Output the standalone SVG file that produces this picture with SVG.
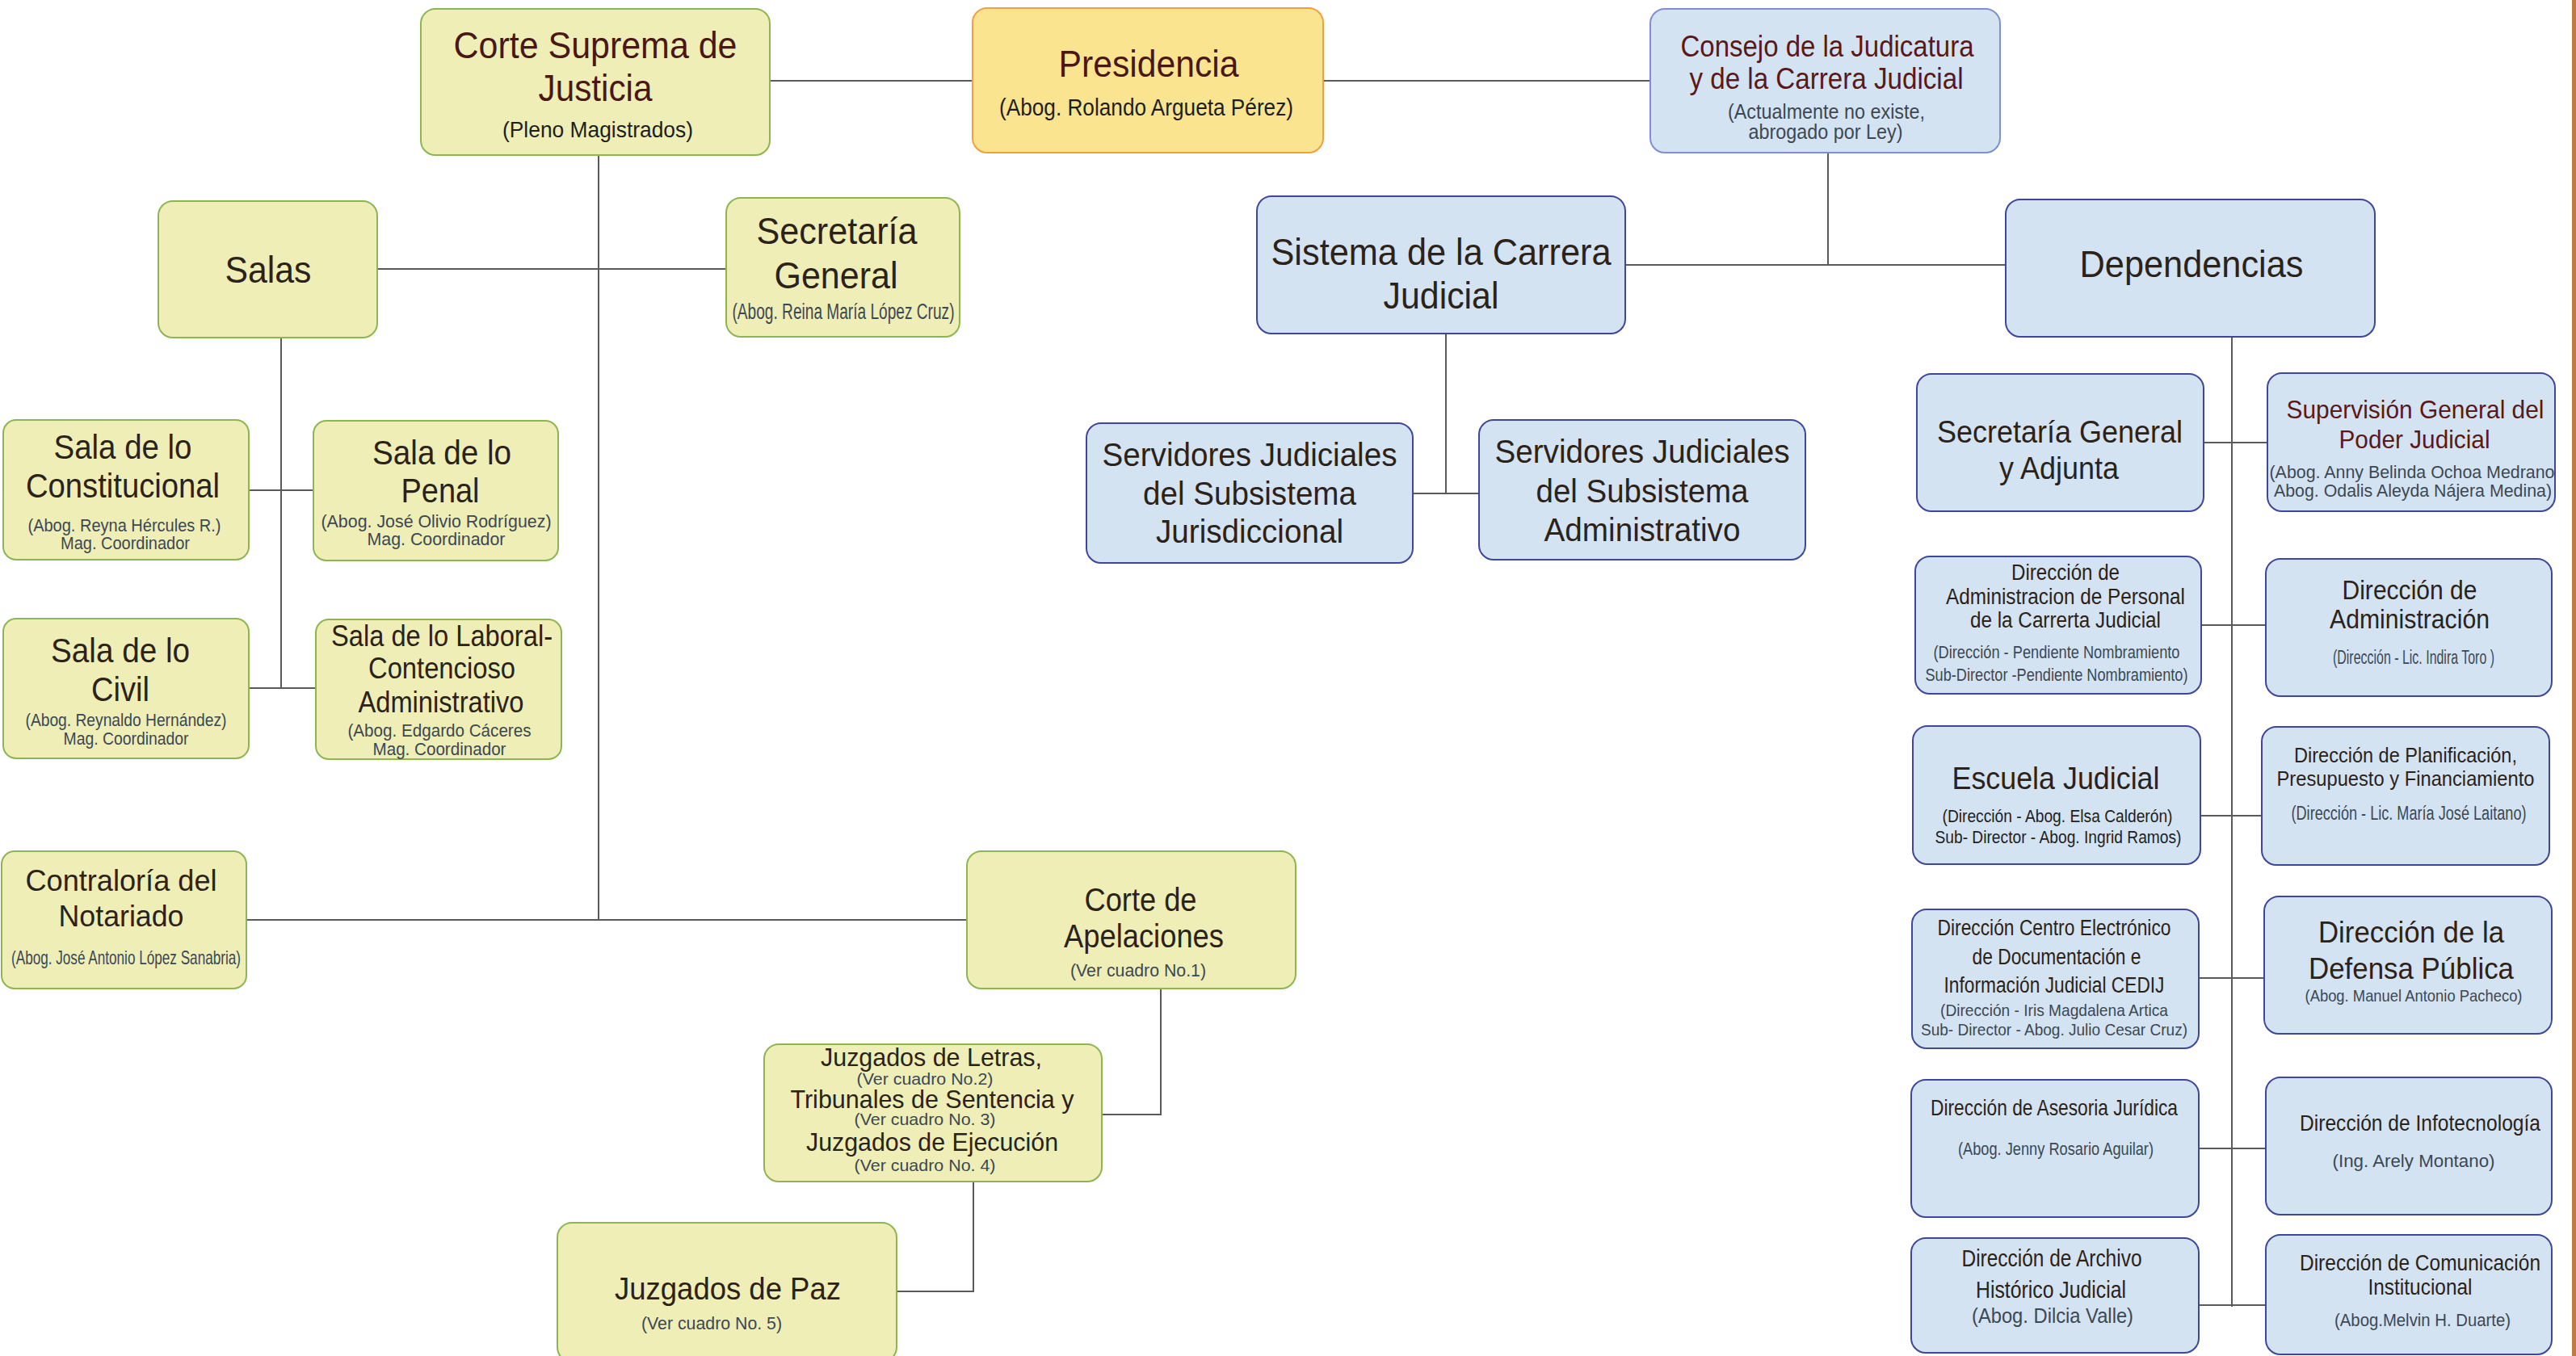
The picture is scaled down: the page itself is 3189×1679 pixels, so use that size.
<svg xmlns="http://www.w3.org/2000/svg" width="3189" height="1679" viewBox="0 0 3189 1679">
<style>
text{font-family:"Liberation Sans","Arial",sans-serif;text-anchor:middle}
.g{fill:#eeeeb6;stroke:#8db653;stroke-width:2}
.b{fill:#d4e3f2;stroke:#3e479a;stroke-width:2}
.y{fill:#fae490;stroke:#f0a040;stroke-width:2}
.t{fill:#2b2219}
.r{fill:#4a1717}
.s{fill:#3c4853}
.k{fill:#1e1e1e}
.c{fill:none;stroke:#5a5a5a;stroke-width:2}
</style>
<rect x="0" y="0" width="3189" height="1679" fill="#ffffff"/>
<rect x="3184" y="0" width="5" height="1679" fill="#c27a3e"/>
<g id="connectors">
<path class="c" d="M953,100H1204M1638,100H2043M741,192V1139M305,1139H1197M467,333H899M348,418V852M308,607H388M308,852H391M1437,1224V1380H1364M1205,1463V1599H1110M2263,189V328M2012,328H2483M1790,413V611M1749,611H1831M2763,417V1618M2728,548H2807M2725,774H2805M2724,1010H2800M2722,1211H2803M2722,1422H2805M2722,1616H2805"/>
</g>
<g id="corte-suprema">
<rect class="g" x="521" y="11" width="432" height="181" rx="18"/>
<text class="r" x="737" y="72" font-size="46" textLength="351" lengthAdjust="spacingAndGlyphs">Corte Suprema de</text>
<text class="r" x="737" y="125" font-size="46" textLength="141" lengthAdjust="spacingAndGlyphs">Justicia</text>
<text class="k" x="740" y="170" font-size="28" textLength="236" lengthAdjust="spacingAndGlyphs">(Pleno Magistrados)</text>
</g>
<g id="presidencia">
<rect class="y" x="1204" y="10" width="434" height="179" rx="18"/>
<text class="r" x="1422" y="95" font-size="46" textLength="223" lengthAdjust="spacingAndGlyphs">Presidencia</text>
<text class="k" x="1419" y="143" font-size="29" textLength="364" lengthAdjust="spacingAndGlyphs">(Abog. Rolando Argueta Pérez)</text>
</g>
<g id="consejo">
<rect class="b" x="2043" y="11" width="433" height="178" rx="18" style="stroke:#7f8fd0"/>
<text class="r" x="2262" y="70" font-size="37" textLength="363" lengthAdjust="spacingAndGlyphs" style="fill:#5a1818">Consejo de la Judicatura</text>
<text class="r" x="2261" y="110" font-size="37" textLength="339" lengthAdjust="spacingAndGlyphs" style="fill:#5a1818">y de la Carrera Judicial</text>
<text class="s" x="2261" y="147" font-size="25" textLength="244" lengthAdjust="spacingAndGlyphs">(Actualmente no existe,</text>
<text class="s" x="2260" y="172" font-size="25" textLength="191" lengthAdjust="spacingAndGlyphs">abrogado por Ley)</text>
</g>
<g id="sistema">
<rect class="b" x="1556" y="243" width="456" height="170" rx="18"/>
<text class="t" x="1784" y="328" font-size="46" textLength="421" lengthAdjust="spacingAndGlyphs">Sistema de la Carrera</text>
<text class="t" x="1784" y="382" font-size="46" textLength="143" lengthAdjust="spacingAndGlyphs">Judicial</text>
</g>
<g id="dependencias">
<rect class="b" x="2483" y="247" width="457" height="170" rx="18"/>
<text class="t" x="2713" y="343" font-size="46" textLength="277" lengthAdjust="spacingAndGlyphs">Dependencias</text>
</g>
<g id="salas">
<rect class="g" x="196" y="249" width="271" height="169" rx="18"/>
<text class="t" x="332" y="350" font-size="46" textLength="107" lengthAdjust="spacingAndGlyphs">Salas</text>
</g>
<g id="secretaria-general">
<rect class="g" x="899" y="245" width="289" height="172" rx="18"/>
<text class="t" x="1036" y="302" font-size="46" textLength="199" lengthAdjust="spacingAndGlyphs">Secretaría</text>
<text class="t" x="1035" y="357" font-size="46" textLength="153" lengthAdjust="spacingAndGlyphs">General</text>
<text class="s" x="1044" y="395" font-size="27" textLength="275" lengthAdjust="spacingAndGlyphs">(Abog. Reina María López Cruz)</text>
</g>
<g id="sala-constitucional">
<rect class="g" x="4" y="520" width="304" height="173" rx="16"/>
<text class="t" x="152" y="568" font-size="42" textLength="171" lengthAdjust="spacingAndGlyphs">Sala de lo</text>
<text class="t" x="152" y="616" font-size="42" textLength="240" lengthAdjust="spacingAndGlyphs">Constitucional</text>
<text class="s" x="154" y="658" font-size="22" textLength="239" lengthAdjust="spacingAndGlyphs">(Abog. Reyna Hércules R.)</text>
<text class="s" x="155" y="680" font-size="22" textLength="160" lengthAdjust="spacingAndGlyphs">Mag. Coordinador</text>
</g>
<g id="sala-penal">
<rect class="g" x="388" y="521" width="303" height="173" rx="16"/>
<text class="t" x="547" y="575" font-size="42" textLength="172" lengthAdjust="spacingAndGlyphs">Sala de lo</text>
<text class="t" x="545" y="622" font-size="42" textLength="97" lengthAdjust="spacingAndGlyphs">Penal</text>
<text class="s" x="540" y="653" font-size="22" textLength="285" lengthAdjust="spacingAndGlyphs">(Abog. José Olivio Rodríguez)</text>
<text class="s" x="540" y="675" font-size="22" textLength="171" lengthAdjust="spacingAndGlyphs">Mag. Coordinador</text>
</g>
<g id="sala-civil">
<rect class="g" x="4" y="766" width="304" height="173" rx="16"/>
<text class="t" x="149" y="820" font-size="42" textLength="172" lengthAdjust="spacingAndGlyphs">Sala de lo</text>
<text class="t" x="149" y="868" font-size="42" textLength="72" lengthAdjust="spacingAndGlyphs">Civil</text>
<text class="s" x="156" y="899" font-size="22" textLength="249" lengthAdjust="spacingAndGlyphs">(Abog. Reynaldo Hernández)</text>
<text class="s" x="156" y="922" font-size="22" textLength="155" lengthAdjust="spacingAndGlyphs">Mag. Coordinador</text>
</g>
<g id="sala-laboral">
<rect class="g" x="391" y="767" width="304" height="173" rx="16"/>
<text class="t" x="547" y="800" font-size="36" textLength="274" lengthAdjust="spacingAndGlyphs">Sala de lo Laboral-</text>
<text class="t" x="547" y="840" font-size="36" textLength="182" lengthAdjust="spacingAndGlyphs">Contencioso</text>
<text class="t" x="546" y="882" font-size="36" textLength="205" lengthAdjust="spacingAndGlyphs">Administrativo</text>
<text class="s" x="544" y="912" font-size="22" textLength="227" lengthAdjust="spacingAndGlyphs">(Abog. Edgardo Cáceres</text>
<text class="s" x="544" y="935" font-size="22" textLength="165" lengthAdjust="spacingAndGlyphs">Mag. Coordinador</text>
</g>
<g id="contraloria">
<rect class="g" x="2" y="1054" width="303" height="170" rx="16"/>
<text class="t" x="150" y="1103" font-size="37" textLength="237" lengthAdjust="spacingAndGlyphs">Contraloría del</text>
<text class="t" x="150" y="1147" font-size="37" textLength="155" lengthAdjust="spacingAndGlyphs">Notariado</text>
<text class="s" x="156" y="1194" font-size="24" textLength="284" lengthAdjust="spacingAndGlyphs">(Abog. José Antonio López Sanabria)</text>
</g>
<g id="corte-apelaciones">
<rect class="g" x="1197" y="1054" width="407" height="170" rx="18"/>
<text class="t" x="1412" y="1128" font-size="40" textLength="139" lengthAdjust="spacingAndGlyphs">Corte de</text>
<text class="t" x="1416" y="1173" font-size="40" textLength="198" lengthAdjust="spacingAndGlyphs">Apelaciones</text>
<text class="s" x="1409" y="1209" font-size="22" textLength="168" lengthAdjust="spacingAndGlyphs">(Ver cuadro No.1)</text>
</g>
<g id="juzgados-letras">
<rect class="g" x="946" y="1293" width="418" height="170" rx="18"/>
<text class="t" x="1153" y="1320" font-size="32" textLength="274" lengthAdjust="spacingAndGlyphs">Juzgados de Letras,</text>
<text class="s" x="1145" y="1343" font-size="21" textLength="169" lengthAdjust="spacingAndGlyphs">(Ver cuadro No.2)</text>
<text class="t" x="1154" y="1372" font-size="32" textLength="351" lengthAdjust="spacingAndGlyphs">Tribunales de Sentencia y</text>
<text class="s" x="1145" y="1393" font-size="21" textLength="175" lengthAdjust="spacingAndGlyphs">(Ver cuadro No. 3)</text>
<text class="t" x="1154" y="1425" font-size="32" textLength="312" lengthAdjust="spacingAndGlyphs">Juzgados de Ejecución</text>
<text class="s" x="1145" y="1450" font-size="21" textLength="175" lengthAdjust="spacingAndGlyphs">(Ver cuadro No. 4)</text>
</g>
<g id="juzgados-paz">
<rect class="g" x="690" y="1514" width="420" height="172" rx="18"/>
<text class="t" x="901" y="1609" font-size="38" textLength="280" lengthAdjust="spacingAndGlyphs">Juzgados de Paz</text>
<text class="s" x="881" y="1646" font-size="22" textLength="174" lengthAdjust="spacingAndGlyphs">(Ver cuadro No. 5)</text>
</g>
<g id="servidores-jurisdiccional">
<rect class="b" x="1345" y="524" width="404" height="173" rx="18"/>
<text class="t" x="1547" y="577" font-size="40" textLength="365" lengthAdjust="spacingAndGlyphs">Servidores Judiciales</text>
<text class="t" x="1547" y="625" font-size="40" textLength="264" lengthAdjust="spacingAndGlyphs">del Subsistema</text>
<text class="t" x="1547" y="672" font-size="40" textLength="232" lengthAdjust="spacingAndGlyphs">Jurisdiccional</text>
</g>
<g id="servidores-administrativo">
<rect class="b" x="1831" y="520" width="404" height="173" rx="18"/>
<text class="t" x="2033" y="573" font-size="40" textLength="365" lengthAdjust="spacingAndGlyphs">Servidores Judiciales</text>
<text class="t" x="2033" y="622" font-size="40" textLength="263" lengthAdjust="spacingAndGlyphs">del Subsistema</text>
<text class="t" x="2033" y="670" font-size="40" textLength="243" lengthAdjust="spacingAndGlyphs">Administrativo</text>
</g>
<g id="sec-general-adjunta">
<rect class="b" x="2373" y="463" width="355" height="170" rx="18"/>
<text class="t" x="2550" y="548" font-size="38" textLength="304" lengthAdjust="spacingAndGlyphs">Secretaría General</text>
<text class="t" x="2549" y="593" font-size="38" textLength="148" lengthAdjust="spacingAndGlyphs">y Adjunta</text>
</g>
<g id="supervision-general">
<rect class="b" x="2807" y="462" width="356" height="171" rx="18"/>
<text class="r" x="2990" y="518" font-size="32" textLength="319" lengthAdjust="spacingAndGlyphs" style="fill:#5a1818">Supervisión General del</text>
<text class="r" x="2989" y="555" font-size="32" textLength="187" lengthAdjust="spacingAndGlyphs" style="fill:#5a1818">Poder Judicial</text>
<text class="s" x="2986" y="592" font-size="22" textLength="353" lengthAdjust="spacingAndGlyphs">(Abog. Anny Belinda Ochoa Medrano</text>
<text class="s" x="2987" y="615" font-size="22" textLength="344" lengthAdjust="spacingAndGlyphs">Abog. Odalis Aleyda Nájera Medina)</text>
</g>
<g id="dir-admin-personal">
<rect class="b" x="2371" y="689" width="354" height="170" rx="18"/>
<text class="t" x="2557" y="718" font-size="27" textLength="134" lengthAdjust="spacingAndGlyphs">Dirección de</text>
<text class="t" x="2557" y="748" font-size="27" textLength="296" lengthAdjust="spacingAndGlyphs">Administracion de Personal</text>
<text class="t" x="2557" y="777" font-size="27" textLength="236" lengthAdjust="spacingAndGlyphs">de la Carrerta Judicial</text>
<text class="s" x="2546" y="815" font-size="22" textLength="305" lengthAdjust="spacingAndGlyphs">(Dirección - Pendiente Nombramiento</text>
<text class="s" x="2546" y="843" font-size="22" textLength="325" lengthAdjust="spacingAndGlyphs">Sub-Director -Pendiente Nombramiento)</text>
</g>
<g id="dir-administracion">
<rect class="b" x="2805" y="692" width="354" height="170" rx="18"/>
<text class="t" x="2983" y="742" font-size="33" textLength="167" lengthAdjust="spacingAndGlyphs">Dirección de</text>
<text class="t" x="2983" y="778" font-size="33" textLength="198" lengthAdjust="spacingAndGlyphs">Administración</text>
<text class="s" x="2988" y="822" font-size="23" textLength="200" lengthAdjust="spacingAndGlyphs">(Dirección - Lic. Indira Toro )</text>
</g>
<g id="escuela-judicial">
<rect class="b" x="2368" y="899" width="356" height="171" rx="18"/>
<text class="t" x="2545" y="977" font-size="39" textLength="257" lengthAdjust="spacingAndGlyphs">Escuela Judicial</text>
<text class="k" x="2547" y="1018" font-size="22" textLength="285" lengthAdjust="spacingAndGlyphs">(Dirección - Abog. Elsa Calderón)</text>
<text class="k" x="2548" y="1044" font-size="22" textLength="305" lengthAdjust="spacingAndGlyphs">Sub- Director - Abog. Ingrid Ramos)</text>
</g>
<g id="dir-planificacion">
<rect class="b" x="2800" y="900" width="356" height="171" rx="18"/>
<text class="t" x="2978" y="944" font-size="26" textLength="276" lengthAdjust="spacingAndGlyphs">Dirección de Planificación,</text>
<text class="t" x="2978" y="973" font-size="26" textLength="319" lengthAdjust="spacingAndGlyphs">Presupuesto y Financiamiento</text>
<text class="s" x="2982" y="1015" font-size="23" textLength="291" lengthAdjust="spacingAndGlyphs">(Dirección - Lic. María José Laitano)</text>
</g>
<g id="dir-cedij">
<rect class="b" x="2367" y="1126" width="355" height="172" rx="18"/>
<text class="t" x="2543" y="1158" font-size="27" textLength="289" lengthAdjust="spacingAndGlyphs">Dirección Centro Electrónico</text>
<text class="t" x="2546" y="1194" font-size="27" textLength="209" lengthAdjust="spacingAndGlyphs">de Documentación e</text>
<text class="t" x="2543" y="1229" font-size="27" textLength="273" lengthAdjust="spacingAndGlyphs">Información Judicial CEDIJ</text>
<text class="s" x="2543" y="1258" font-size="21" textLength="282" lengthAdjust="spacingAndGlyphs">(Dirección - Iris Magdalena Artica</text>
<text class="s" x="2543" y="1282" font-size="21" textLength="330" lengthAdjust="spacingAndGlyphs">Sub- Director - Abog. Julio Cesar Cruz)</text>
</g>
<g id="dir-defensa-publica">
<rect class="b" x="2803" y="1110" width="356" height="170" rx="18"/>
<text class="t" x="2985" y="1167" font-size="36" textLength="230" lengthAdjust="spacingAndGlyphs">Dirección de la</text>
<text class="t" x="2985" y="1212" font-size="36" textLength="254" lengthAdjust="spacingAndGlyphs">Defensa Pública</text>
<text class="s" x="2988" y="1240" font-size="21" textLength="269" lengthAdjust="spacingAndGlyphs">(Abog. Manuel Antonio Pacheco)</text>
</g>
<g id="dir-asesoria">
<rect class="b" x="2366" y="1337" width="356" height="170" rx="18"/>
<text class="t" x="2543" y="1381" font-size="28" textLength="306" lengthAdjust="spacingAndGlyphs">Dirección de Asesoria Jurídica</text>
<text class="s" x="2545" y="1430" font-size="22" textLength="242" lengthAdjust="spacingAndGlyphs">(Abog. Jenny Rosario Aguilar)</text>
</g>
<g id="dir-infotecnologia">
<rect class="b" x="2805" y="1334" width="354" height="170" rx="18"/>
<text class="t" x="2996" y="1400" font-size="28" textLength="298" lengthAdjust="spacingAndGlyphs">Dirección de Infotecnología</text>
<text class="s" x="2988" y="1445" font-size="22" textLength="201" lengthAdjust="spacingAndGlyphs">(Ing. Arely Montano)</text>
</g>
<g id="dir-archivo">
<rect class="b" x="2366" y="1533" width="356" height="142" rx="18"/>
<text class="t" x="2540" y="1568" font-size="30" textLength="223" lengthAdjust="spacingAndGlyphs">Dirección de Archivo</text>
<text class="t" x="2539" y="1607" font-size="30" textLength="186" lengthAdjust="spacingAndGlyphs">Histórico Judicial</text>
<text class="s" x="2541" y="1638" font-size="25" textLength="200" lengthAdjust="spacingAndGlyphs">(Abog. Dilcia Valle)</text>
</g>
<g id="dir-comunicacion">
<rect class="b" x="2805" y="1529" width="354" height="148" rx="18"/>
<text class="t" x="2996" y="1573" font-size="28" textLength="298" lengthAdjust="spacingAndGlyphs">Dirección de Comunicación</text>
<text class="t" x="2996" y="1603" font-size="28" textLength="129" lengthAdjust="spacingAndGlyphs">Institucional</text>
<text class="s" x="2999" y="1642" font-size="22" textLength="218" lengthAdjust="spacingAndGlyphs">(Abog.Melvin H. Duarte)</text>
</g>
</svg>
